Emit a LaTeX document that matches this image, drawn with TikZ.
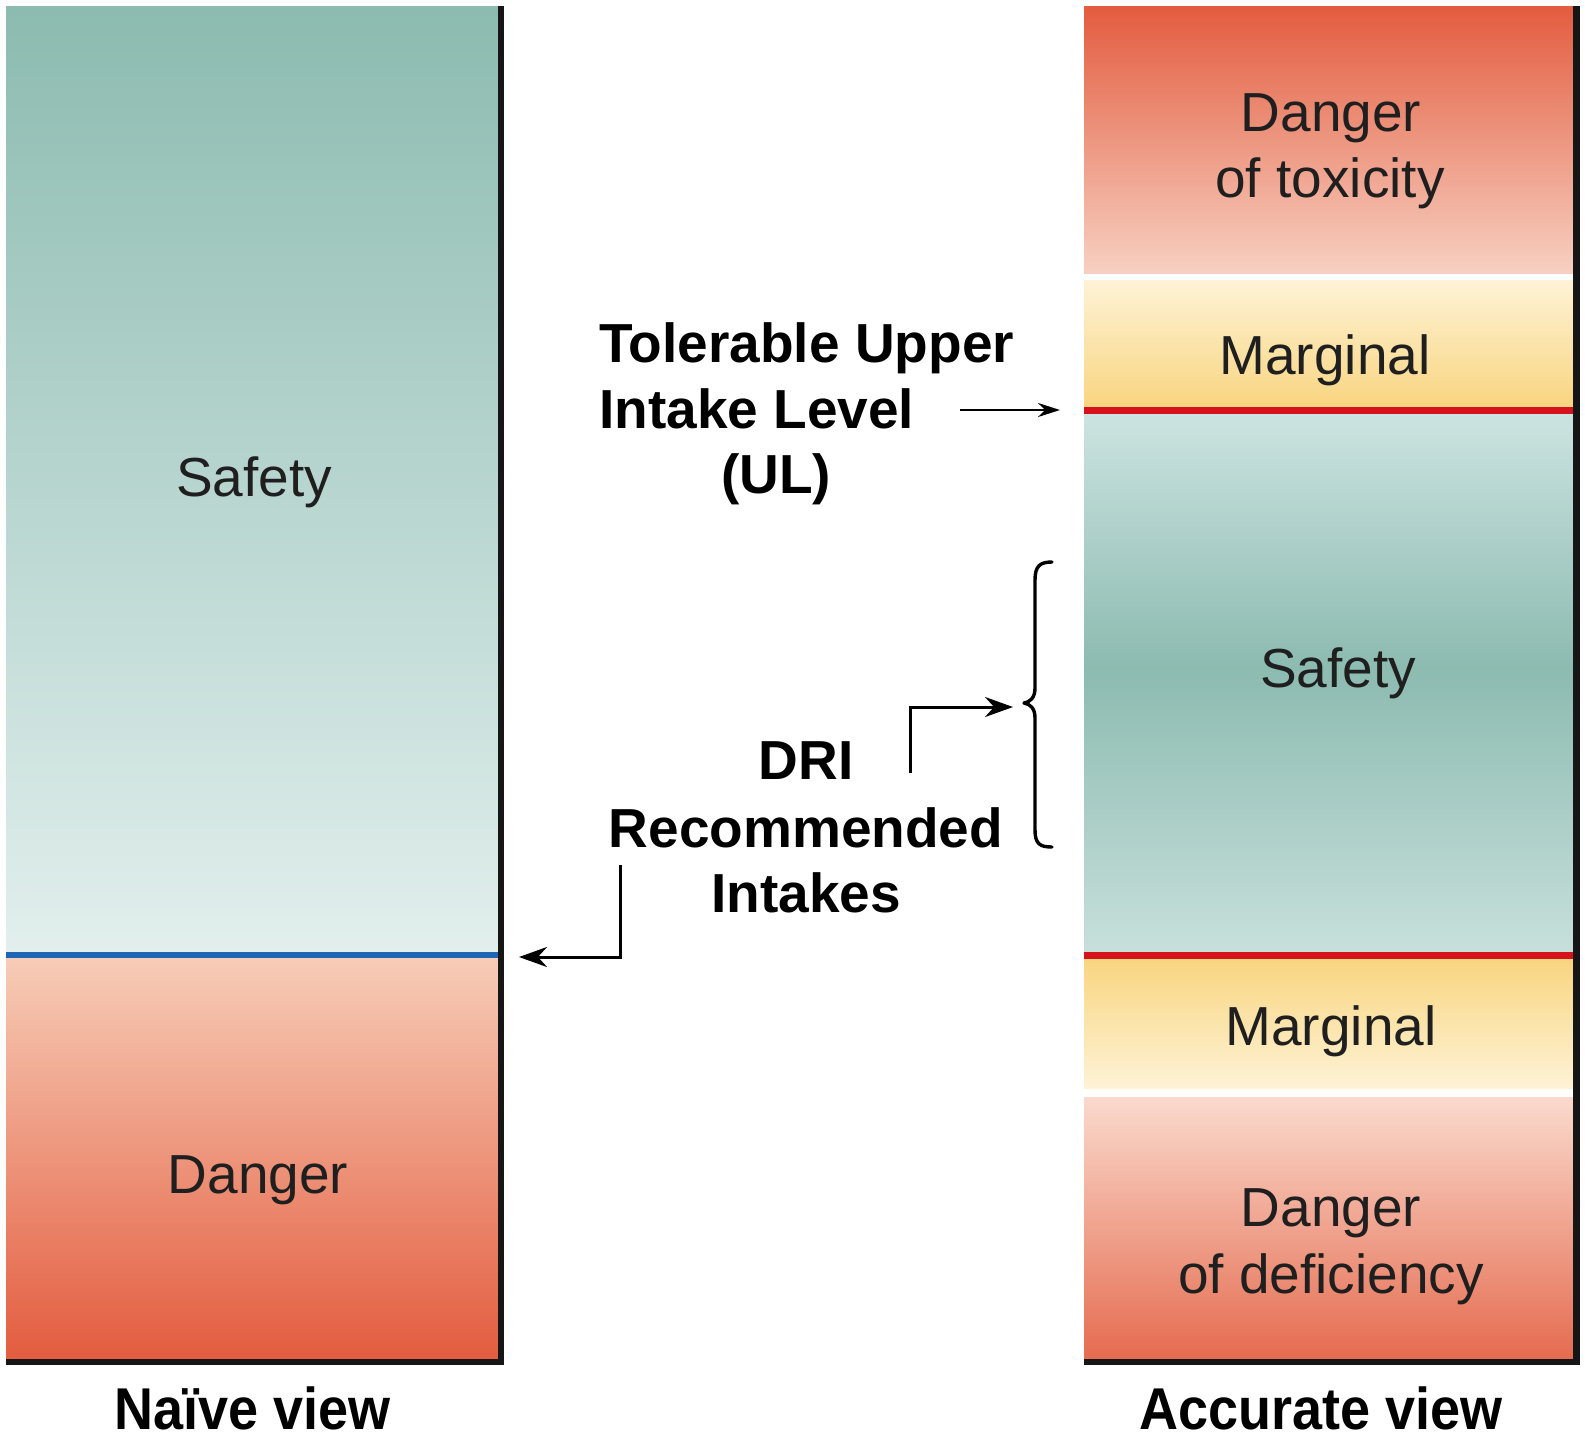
\documentclass[tikz,border=0pt]{standalone}
\usepackage{fontspec}
\setmainfont{Liberation Sans}
\usetikzlibrary{arrows.meta}
\definecolor{teal1}{HTML}{8CBBB0}
\definecolor{teallt}{HTML}{E2EFED}
\definecolor{teallt2}{HTML}{CDE4E1}
\definecolor{teallt3}{HTML}{C8E0DC}
\definecolor{dred}{HTML}{E35C3F}
\definecolor{peach}{HTML}{F7CDB8}
\definecolor{peach2}{HTML}{F7D0C1}
\definecolor{peach3}{HTML}{FADACD}
\definecolor{dred2}{HTML}{E56B4F}
\definecolor{yel}{HTML}{F8D47E}
\definecolor{yellt}{HTML}{FEF3D6}
\definecolor{bline}{HTML}{1E66B4}
\definecolor{rline}{HTML}{D6121C}
\definecolor{edge}{HTML}{161616}
\begin{document}
\begin{tikzpicture}[x=0.5pt,y=-0.5pt,
  lbl/.style={font=\fontsize{27.5}{33}\selectfont, text=black!88, inner sep=0, anchor=base},
  blbl/.style={font=\fontsize{27.5}{33}\selectfont\bfseries, text=black, inner sep=0, anchor=base},
  vlbl/.style={font=\fontsize{29.5}{33}\selectfont\bfseries, text=black, inner sep=0, anchor=base},
  edgefill/.style={fill=edge},
  bigarrow/.style={line width=1.5pt, -{Stealth[length=14pt,width=10pt]}},
  smallarrow/.style={line width=1pt, -{Stealth[length=11pt,width=7pt]}},
  bracepen/.style={line width=1.7pt, line cap=round, line join=round}]
\useasboundingbox (0,0) rectangle (1585,1441);
\fill[white] (0,0) rectangle (1585,1441);

% ---------- Left bar (naive view) ----------
\shade[top color=teal1, bottom color=teallt] (6,6) rectangle (498,955);
\shade[top color=peach, bottom color=dred] (6,955) rectangle (498,1360);
\fill[bline] (6,952) rectangle (498,958);
\fill[edgefill] (498,6) rectangle (504,1365);
\fill[edgefill] (6,1359) rectangle (504,1365);

% ---------- Right bar (accurate view) ----------
\shade[top color=dred, bottom color=peach2] (1084,6) rectangle (1573,273);
\shade[top color=yellt, bottom color=yel] (1084,280) rectangle (1573,410);
\shade[top color=teallt2, bottom color=teal1] (1084,410) rectangle (1573,668);
\shade[top color=teal1, bottom color=teallt3] (1084,667) rectangle (1573,955);
\shade[top color=yel, bottom color=yellt] (1084,955) rectangle (1573,1088);
\shade[top color=peach3, bottom color=dred2] (1084,1097) rectangle (1573,1360);
\fill[rline] (1084,407) rectangle (1573,414);
\fill[rline] (1084,952) rectangle (1573,959);
\fill[edgefill] (1573,6) rectangle (1580,1365);
\fill[edgefill] (1084,1359) rectangle (1580,1365);

% ---------- Texts in bars ----------
\node[lbl] (lsafety) at (254,496) {Safety};
\node[lbl] (ldanger) at (258,1193) {Danger};
\node[lbl] (tox1) at (1331,131) {Danger};
\node[lbl] (tox2) at (1330,197) {of toxicity};
\node[lbl] (marg1) at (1325,374) {Marginal};
\node[lbl] (rsafety) at (1338,687) {Safety};
\node[lbl] (marg2) at (1331,1045) {Marginal};
\node[lbl] (def1) at (1331,1226) {Danger};
\node[lbl] (def2) at (1331,1293) {of deficiency};

% ---------- Middle labels ----------
\node[blbl, anchor=base west] (ul1) at (599,362) {Tolerable Upper};
\node[blbl, anchor=base west] (ul2) at (599,428) {Intake Level};
\node[blbl] (ul3) at (776,493) {(UL)};
\node[blbl] (dri1) at (806,779) {DRI};
\node[blbl] (dri2) at (806,847) {Recommended};
\node[blbl] (dri3) at (806,912) {Intakes};

% ---------- Bottom labels ----------
\node[vlbl] (naive) at (253,1429) {\scalebox{0.915}[1]{Naïve view}};
\node[vlbl] (accurate) at (1321,1429) {\scalebox{0.915}[1]{Accurate view}};

% ---------- Connectors ----------
\coordinate (ulstart) at (960,410);
\coordinate (ulend) at (1060,410);
\draw[smallarrow] (ulstart) -- (ulend);

\coordinate (dristart) at (910,773);
\coordinate (braceTip) at (1013,707);
\draw[bigarrow] (dristart) |- (braceTip);

\coordinate (rdastart) at (620,865);
\coordinate (blueend) at (519,957);
\draw[bigarrow] (rdastart) |- (blueend);

% brace
\draw[bracepen] (1052,562) .. controls (1040,562) and (1035,566) .. (1035,580)
  -- (1035,688) .. controls (1035,698) and (1030,702) .. (1024,703)
  .. controls (1030,704) and (1035,708) .. (1035,718)
  -- (1035,830) .. controls (1035,844) and (1040,847) .. (1052,847);
\end{tikzpicture}
\end{document}
